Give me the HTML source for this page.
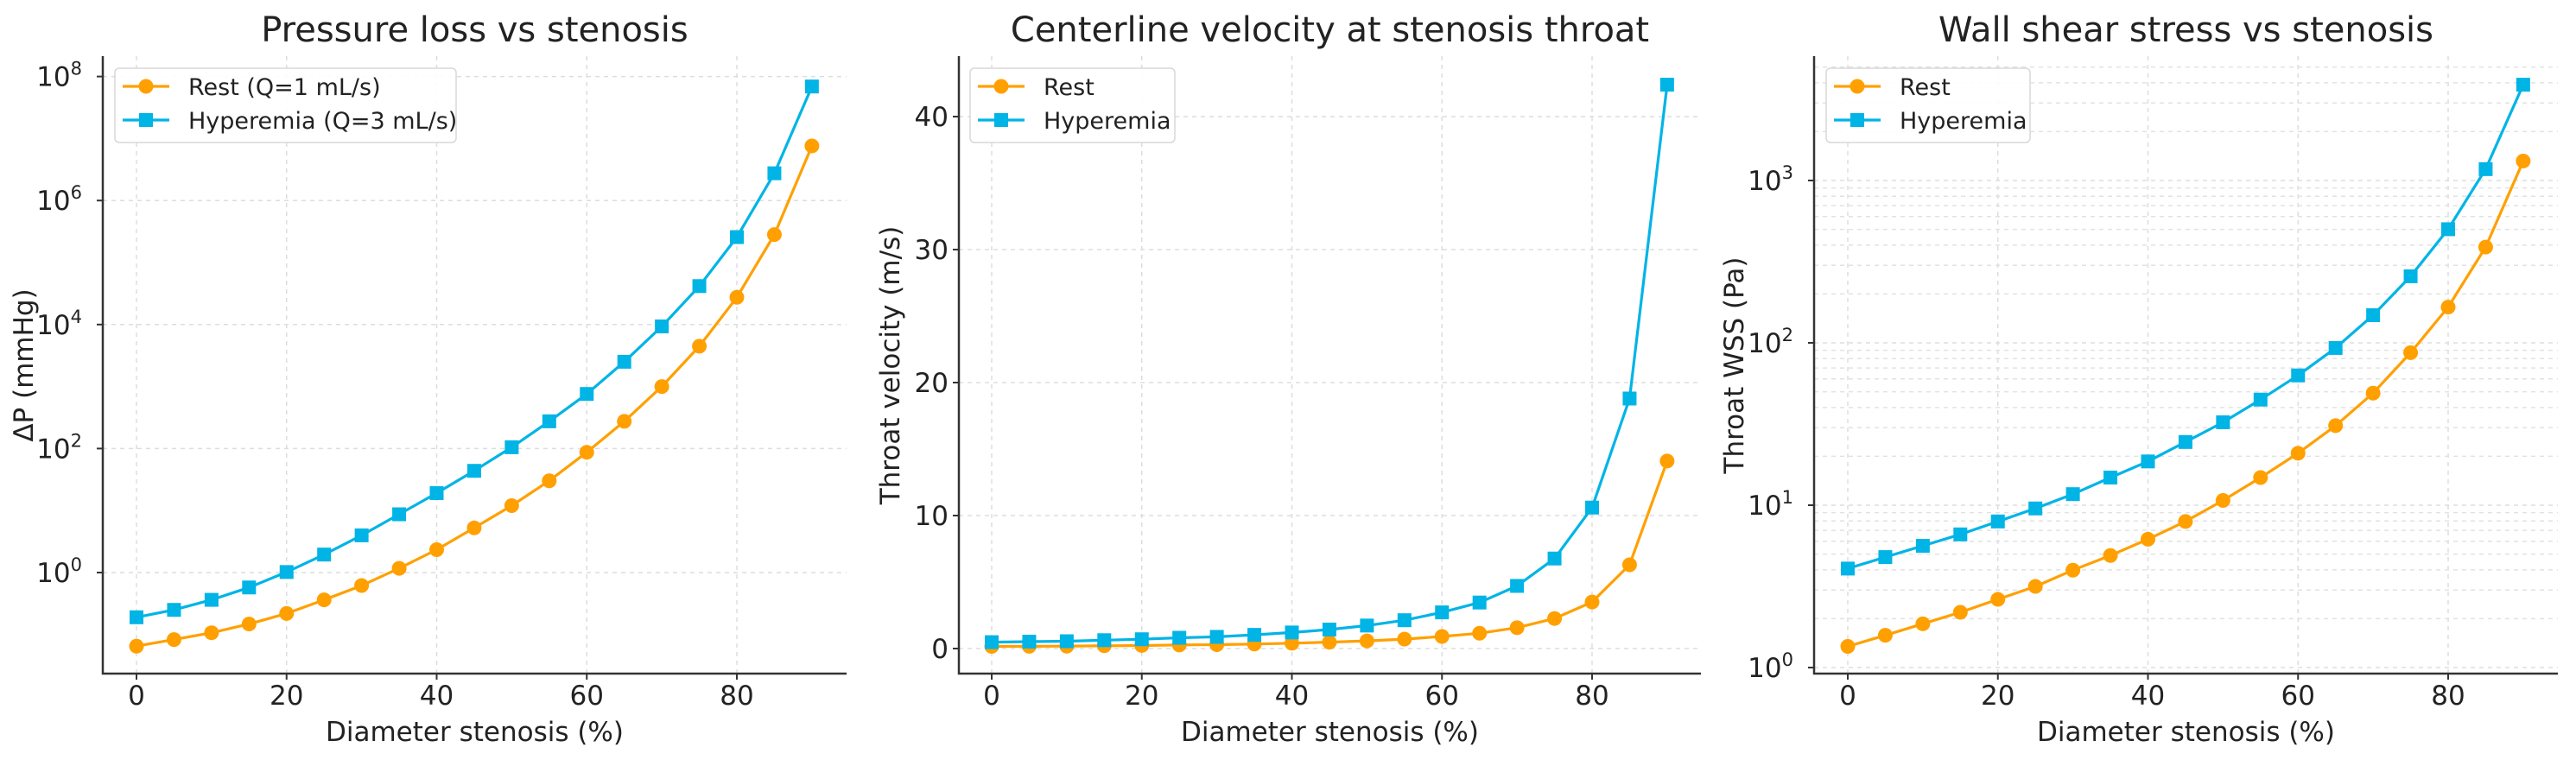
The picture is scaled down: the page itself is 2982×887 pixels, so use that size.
<!DOCTYPE html>
<html><head><meta charset="utf-8">
<style>
html,body{margin:0;padding:0;background:#fff;}
svg{display:block;font-family:"DejaVu Sans","Liberation Sans",sans-serif;}
</style></head>
<body>
<svg id="chart" width="2982" height="887" viewBox="0 0 2982 887" xmlns="http://www.w3.org/2000/svg"></svg>
<script>
const stenosis = [0,5,10,15,20,25,30,35,40,45,50,55,60,65,70,75,80,85,90];
const xTicks = [0,20,40,60,80];
// Panel 1: pressure loss (mmHg), log scale
const dpRest = [0.065,0.083,0.107,0.148,0.219,0.363,0.617,1.17,2.34,5.25,12.0,30.2,87.1,275,1000,4470,27500,282000,7600000];
const dpHyper = [0.19,0.25,0.363,0.575,1.02,1.95,3.98,8.71,19.1,43.7,105,275,759,2510,9330,41700,257000,2750000,69000000];
const dpTicks = [0,2,4,6,8];
// Panel 2: throat velocity (m/s), linear
const velRest = [0.16,0.17,0.18,0.21,0.23,0.27,0.29,0.34,0.40,0.48,0.58,0.71,0.91,1.15,1.57,2.26,3.5,6.3,14.1];
const velHyper = [0.48,0.52,0.55,0.63,0.70,0.81,0.88,1.03,1.21,1.43,1.73,2.13,2.72,3.46,4.71,6.77,10.6,18.8,42.4];
const velTicks = [0,10,20,30,40];
// Panel 3: wall shear stress (Pa), log scale
const wssRest = [1.35,1.58,1.86,2.19,2.63,3.16,3.98,4.9,6.17,7.94,10.7,14.8,20.9,30.9,49,87,166,389,1318];
const wssHyper = [4.07,4.79,5.62,6.61,7.94,9.55,11.7,14.8,18.6,24.5,32.4,44.7,63,93,148,257,501,1175,3890];
const wssTicks = [0,1,2,3];

const NS="http://www.w3.org/2000/svg";
const svg=document.getElementById('chart');
const ORANGE="#ffa000", BLUE="#00b4e6";
function el(tag,attrs,parent){const e=document.createElementNS(NS,tag);for(const k in attrs)e.setAttribute(k,attrs[k]);(parent||svg).appendChild(e);return e;}

function panel(cfg){
  const g=el('g',{});
  
  
  const L=cfg.left,R=cfg.right,T=65,B=780;
  const xs=v=>cfg.x0+(v)*(cfg.x80-cfg.x0)/80;
  const ys=cfg.ys;
  // grid
  const grid=el('g',{},g);
  
  
  xTicks.forEach(t=>{el('line',{x1:xs(t),x2:xs(t),y1:T,y2:B,stroke:'#ddd','stroke-width':1.5,'stroke-dasharray':'5,5'},grid);});
  if(cfg.minor){cfg.minor.forEach(v=>{const y=ys(v);if(y>T&&y<B)el('line',{x1:L,x2:R,y1:y,y2:y,stroke:'#e2e2e2','stroke-width':1.5,'stroke-dasharray':'5,5'},grid);});}
  cfg.ticks.forEach(t=>{const y=cfg.tickY(t);el('line',{x1:L,x2:R,y1:y,y2:y,stroke:'#ddd','stroke-width':1.5,'stroke-dasharray':'5,5'},grid);});
  // axes
  const ax=el('path',{d:`M${L} ${T} V${B} H${R}`,fill:'none',stroke:'#333','stroke-width':2.5},g);
  
  
  xTicks.forEach(t=>{
    el('line',{x1:xs(t),x2:xs(t),y1:B,y2:B+7,stroke:'#333','stroke-width':2},g);
    const tx=el('text',{x:xs(t),y:816,'font-size':31,'text-anchor':'middle',fill:'#222'},g);
    tx.textContent=t;
    
    
  });
  cfg.ticks.forEach(t=>{
    const y=cfg.tickY(t);
    el('line',{x1:L-7,x2:L,y1:y,y2:y,stroke:'#333','stroke-width':2},g);
    const tx=el('text',{x:L-12,y:y+11,'font-size':31,'text-anchor':'end',fill:'#222'},g);
    if(cfg.log){tx.textContent='10';const s=el('tspan',{dy:-13,'font-size':21},tx);s.textContent=t;tx.setAttribute('x',L-24);}
    else tx.textContent=t;
    
    
  });
  // series
  [[cfg.rest,ORANGE,'circle','rest-series'],[cfg.hyper,BLUE,'square','hyperemia-series']].forEach(([vals,col,mk,nm])=>{
    const sg=el('g',{},g);
    
    
    const d=vals.map((v,i)=>(i?'L':'M')+xs(stenosis[i]).toFixed(1)+' '+ys(v).toFixed(1)).join(' ');
    el('path',{d:d,fill:'none',stroke:col,'stroke-width':3.2,'stroke-linejoin':'round'},sg);
    vals.forEach((v,i)=>{
      const px=xs(stenosis[i]),py=ys(v);
      let m;
      if(mk==='circle')m=el('circle',{cx:px,cy:py,r:8.5,fill:col},sg);
      else m=el('rect',{x:px-8,y:py-8,width:16,height:16,fill:col},sg);
      
      
    });
  });
  // title and labels
  const cx=(L+R)/2;
  const ti=el('text',{x:cx,y:48,'font-size':40,'text-anchor':'middle',fill:'#222'},g);
  ti.textContent=cfg.title;
  
  
  const xl=el('text',{x:cx,y:858,'font-size':31,'text-anchor':'middle',fill:'#222'},g);
  xl.textContent='Diameter stenosis (%)';
  
  
  const yl=el('text',{x:0,y:0,'font-size':31,'text-anchor':'middle',fill:'#222',transform:`translate(${cfg.ylx},423) rotate(-90)`},g);
  yl.textContent=cfg.ylabel;
  
  
  // legend
  const lg=el('g',{},g);
  
  
  const lx=cfg.leg[0],lw=cfg.leg[1];
  el('rect',{x:lx,y:79,width:lw,height:86,rx:5,fill:'#fff',stroke:'#d8d8d8','stroke-width':1.5,'fill-opacity':0.9},lg);
  [[ORANGE,'circle',cfg.legRest,100],[BLUE,'square',cfg.legHyper,139]].forEach(([col,mk,txt,y])=>{
    const e=el('g',{},lg);
    
    
    el('line',{x1:lx+9,x2:lx+63,y1:y,y2:y,stroke:col,'stroke-width':3.2},e);
    if(mk==='circle')el('circle',{cx:lx+36,cy:y,r:8.5,fill:col},e);
    else el('rect',{x:lx+28,y:y-8,width:16,height:16,fill:col},e);
    const t=el('text',{x:lx+85,y:y+10,'font-size':27,fill:'#222'},e);
    t.textContent=txt;
  });
}

const minor=[];for(let d=0;d<4;d++)for(let k=2;k<10;k++)minor.push(k*Math.pow(10,d));

panel({name:'pressure-loss-panel',left:119,right:980,x0:158,x80:853,log:true,ticks:dpTicks,
  tickY:t=>663-t*71.8, ys:v=>663-Math.log10(v)*71.8,
  rest:dpRest,hyper:dpHyper,title:'Pressure loss vs stenosis',ylabel:'ΔP (mmHg)',ylx:38,
  leg:[133,395],legRest:'Rest (Q=1 mL/s)',legHyper:'Hyperemia (Q=3 mL/s)'});
panel({name:'velocity-panel',left:1110,right:1969,x0:1148,x80:1843,log:false,ticks:velTicks,
  tickY:t=>751-t*15.4, ys:v=>751-v*15.4,
  rest:velRest,hyper:velHyper,title:'Centerline velocity at stenosis throat',ylabel:'Throat velocity (m/s)',ylx:1041,
  leg:[1123,237],legRest:'Rest',legHyper:'Hyperemia'});
panel({name:'wall-shear-stress-panel',left:2100,right:2961,x0:2139,x80:2834,log:true,ticks:wssTicks,minor:minor,
  tickY:t=>773-t*188, ys:v=>773-Math.log10(v)*188,
  rest:wssRest,hyper:wssHyper,title:'Wall shear stress vs stenosis',ylabel:'Throat WSS (Pa)',ylx:2018,
  leg:[2114,236],legRest:'Rest',legHyper:'Hyperemia'});
</script>
</body></html>
